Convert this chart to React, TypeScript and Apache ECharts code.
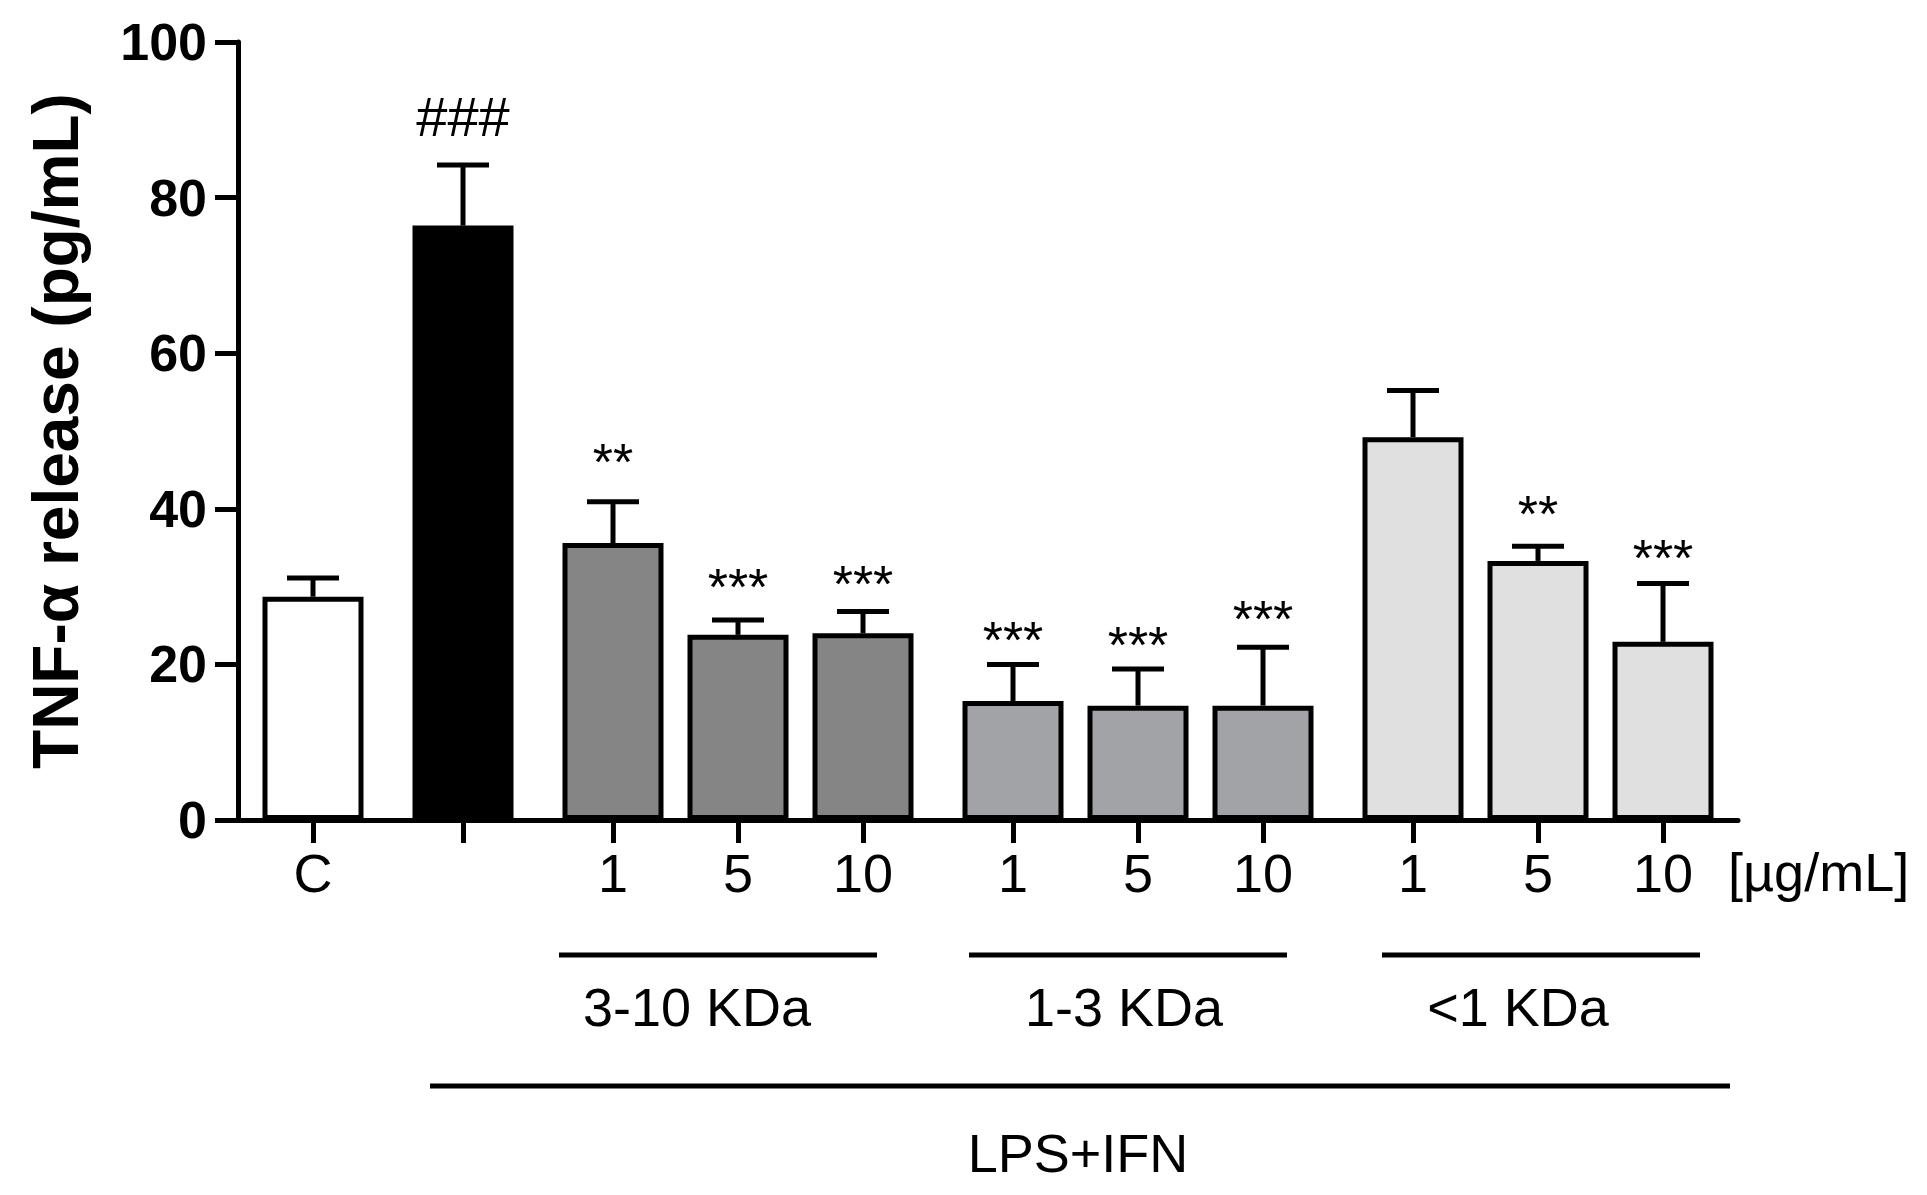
import React, { useEffect, useRef } from "react";
import * as echarts from "echarts";

// ---- data ----
const categoryLabels = ["C", "", "1", "5", "10", "1", "5", "10", "1", "5", "10"];
const groupOfBar = [0, 1, 2, 2, 2, 3, 3, 3, 4, 4, 4];
const meanValues = [28.7, 76.4, 35.6, 23.8, 24.0, 15.3, 14.7, 14.7, 49.2, 33.3, 22.9];
const semValues = [2.4, 7.8, 5.3, 1.9, 2.8, 4.7, 4.7, 7.5, 6.0, 1.9, 7.5];
const marks = ["", "###", "**", "***", "***", "***", "***", "***", "", "**", "***"];
const markLevels = [0, 90.4, 47.4, 31.4, 31.7, 24.5, 23.9, 27.2, 0, 40.7, 35.1];
const groupColors = ["#ffffff", "#000000", "#858585", "#a2a3a7", "#e0e0e0"];
const yTicks = [0, 20, 40, 60, 80, 100];
const bracketLabels = ["3-10 KDa", "1-3 KDa", "<1 KDa"];
const treatmentLabel = "LPS+IFN";
const unitLabel = "[µg/mL]";
const yAxisTitle = "TNF-α release (pg/mL)";

const FONT = '"Liberation Sans", Arial, Helvetica, sans-serif';

export default function App() {
  const ref = useRef<HTMLDivElement>(null);

  useEffect(() => {
    if (!ref.current) return;
    const chart = echarts.init(ref.current, null, { renderer: "svg" });

    // slot layout: 5 slots between bars inside a group, 6 between groups
    const slots: number[] = [];
    groupOfBar.forEach((g, i) => {
      if (i === 0) slots.push(3);
      else slots.push(slots[i - 1] + (g !== groupOfBar[i - 1] ? 6 : 5));
    });
    const slotCount = 61;
    const slotNames = Array.from({ length: slotCount }, (_, i) => "s" + i);
    const slotLabel: Record<number, string> = {};
    slots.forEach((s, i) => (slotLabel[s] = categoryLabels[i]));
    const isBarSlot = (idx: number) => slotLabel[idx] !== undefined;

    const barData: any[] = Array.from({ length: slotCount }, () => "-");
    slots.forEach((s, i) => {
      barData[s] = {
        value: meanValues[i],
        itemStyle: { color: groupColors[groupOfBar[i]] },
      };
    });
    const errData = slots.map((s, i) => [s, meanValues[i], meanValues[i] + semValues[i], markLevels[i]]);

    const lineStyle = { stroke: "#000", lineWidth: 5 };

    chart.setOption({
      animation: false,
      backgroundColor: "#ffffff",
      textStyle: { fontFamily: FONT },
      grid: { left: 238, top: 42, width: 1500, height: 778, containLabel: false },
      xAxis: {
        type: "category",
        data: slotNames,
        boundaryGap: false,
        axisLine: { lineStyle: { color: "#000", width: 5 } },
        axisTick: {
          show: true,
          length: 23,
          interval: (idx: number) => isBarSlot(idx),
          lineStyle: { color: "#000", width: 5 },
        },
        axisLabel: {
          interval: (idx: number) => isBarSlot(idx),
          formatter: (_v: string, idx: number) => slotLabel[idx] ?? "",
          color: "#000",
          fontSize: 54,
          fontFamily: FONT,
          margin: 26,
        },
        splitLine: { show: false },
      },
      yAxis: {
        type: "value",
        min: 0,
        max: yTicks[yTicks.length - 1],
        interval: yTicks[1] - yTicks[0],
        name: yAxisTitle,
        nameLocation: "middle",
        nameGap: 150,
        nameTextStyle: { color: "#000", fontSize: 64, fontWeight: "bold", fontFamily: FONT },
        axisLine: { show: true, lineStyle: { color: "#000", width: 5 } },
        axisTick: { show: true, length: 23, lineStyle: { color: "#000", width: 5 } },
        axisLabel: { color: "#000", fontSize: 52, fontWeight: "bold", fontFamily: FONT, margin: 31 },
        splitLine: { show: false },
      },
      series: [
        {
          type: "bar",
          data: barData,
          barWidth: 101,
          itemStyle: { borderColor: "#000", borderWidth: 5 },
          z: 2,
        },
        {
          type: "custom",
          data: errData,
          z: 3,
          renderItem: (params: any, api: any) => {
            const x = api.value(0);
            const v = api.value(1);
            const top = api.value(2);
            const lvl = api.value(3);
            const p0 = api.coord([x, v]);
            const p1 = api.coord([x, top]);
            const children: any[] = [
              { type: "line", shape: { x1: p0[0], y1: p0[1], x2: p1[0], y2: p1[1] }, style: lineStyle },
              { type: "line", shape: { x1: p1[0] - 26, y1: p1[1], x2: p1[0] + 26, y2: p1[1] }, style: lineStyle },
            ];
            const m = marks[params.dataIndex];
            if (m) {
              const pm = api.coord([x, lvl]);
              const isStar = m.indexOf("*") >= 0;
              children.push({
                type: "text",
                style: {
                  text: m,
                  x: pm[0],
                  y: pm[1] + (isStar ? 11 : 0),
                  align: "center",
                  verticalAlign: "middle",
                  fontSize: isStar ? 52 : 56,
                  fontFamily: FONT,
                  fill: "#000",
                },
              });
            }
            return { type: "group", children };
          },
        },
      ],
      graphic: [
        { type: "text", left: 1728, top: 845, style: { text: unitLabel, fontSize: 54, fontFamily: FONT, fill: "#000" } },
        { type: "line", shape: { x1: 559, y1: 955, x2: 877, y2: 955 }, style: lineStyle },
        { type: "line", shape: { x1: 969, y1: 955, x2: 1287, y2: 955 }, style: lineStyle },
        { type: "line", shape: { x1: 1382, y1: 955, x2: 1700, y2: 955 }, style: lineStyle },
        { type: "line", shape: { x1: 430, y1: 1086, x2: 1730, y2: 1086 }, style: lineStyle },
        { type: "text", x: 697, y: 1007, style: { text: bracketLabels[0], align: "center", verticalAlign: "middle", fontSize: 54, fontFamily: FONT, fill: "#000" } },
        { type: "text", x: 1124, y: 1007, style: { text: bracketLabels[1], align: "center", verticalAlign: "middle", fontSize: 54, fontFamily: FONT, fill: "#000" } },
        { type: "text", x: 1518, y: 1007, style: { text: bracketLabels[2], align: "center", verticalAlign: "middle", fontSize: 54, fontFamily: FONT, fill: "#000" } },
        { type: "text", x: 1078, y: 1153, style: { text: treatmentLabel, align: "center", verticalAlign: "middle", fontSize: 54, fontFamily: FONT, fill: "#000" } },
      ],
    });

    return () => chart.dispose();
  }, []);

  return (
    <div
      ref={ref}
      style={{ position: "absolute", left: 0, top: 0, width: 1927, height: 1195, background: "#fff" }}
    />
  );
}
